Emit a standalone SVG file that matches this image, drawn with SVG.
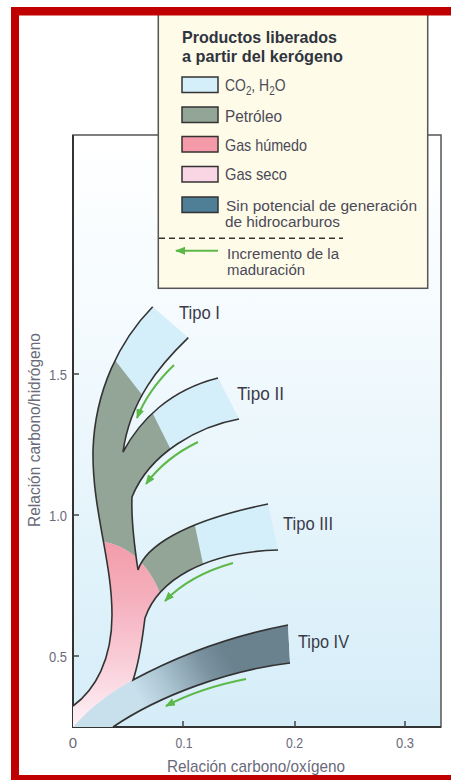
<svg xmlns="http://www.w3.org/2000/svg" width="451" height="780" viewBox="0 0 451 780">
<defs>
<style>
text{font-family:"Liberation Sans",Arial,sans-serif}
.leg{font-size:17px;fill:#4a4a58}
.leg2{font-size:15.5px;fill:#4a4a58}
.ttl{font-size:17px;font-weight:bold;fill:#2f3540}
.tipo{font-size:18px;fill:#3a3a48}
.num{font-size:15px;fill:#6a6a7a}
.axt{font-size:17px;fill:#6a6a7a}
.edge{fill:none;stroke:#333;stroke-width:1.6}
.garrow{fill:none;stroke:#5cb848;stroke-width:2}
.sw{stroke:#333;stroke-width:1.5}
.tick{stroke:#444;stroke-width:1.5}
</style>
<linearGradient id="bg" gradientUnits="userSpaceOnUse" x1="0" y1="135" x2="0" y2="727">
<stop offset="0" stop-color="#ffffff"/>
<stop offset="0.3" stop-color="#f5fbfe"/>
<stop offset="1" stop-color="#d5edf8"/>
</linearGradient>
<linearGradient id="gas" gradientUnits="userSpaceOnUse" x1="0" y1="545" x2="0" y2="725">
<stop offset="0" stop-color="#f39dab"/>
<stop offset="0.3" stop-color="#f5b0bd"/>
<stop offset="0.6" stop-color="#f8c9d4"/>
<stop offset="0.85" stop-color="#fce2ea"/>
<stop offset="1" stop-color="#fef2f6"/>
</linearGradient>
<linearGradient id="t4" gradientUnits="userSpaceOnUse" x1="140" y1="700" x2="225" y2="650">
<stop offset="0" stop-color="#c8e0ec"/>
<stop offset="0.3" stop-color="#adc6d3"/>
<stop offset="0.75" stop-color="#7a929f"/>
<stop offset="1" stop-color="#6a818e"/>
</linearGradient>
<clipPath id="tree">
<path d="M152.7,306.7 C120,340 95,390 93,450 C92,510 112,560 112,615 C112,660 95,690 73,706 L73,727 L113,727 C160,695 230,670 290,663 L288,625 C220,638 170,660 133,680 C140,660 142,640 145,618 C158,580 205,552 278,550 L268,504 C180,522 145,548 138,570 C135,550 131,520 132,497 C150,452 200,426 239,419 L218,378 C170,390 140,420 123,452 C130,400 160,365 188.3,337.7 Z"/>
</clipPath>
<marker id="ah" markerUnits="userSpaceOnUse" markerWidth="11" markerHeight="9" refX="9" refY="4" orient="auto">
<path d="M0,0 L10,4 L0,8 Z" fill="#5cb848"/>
</marker>
</defs>
<rect x="0" y="0" width="451" height="780" fill="#ffffff"/>

<g id="plot">
<rect x="73" y="135" width="368" height="592" fill="url(#bg)" stroke="#555" stroke-width="1.5"/>
<line x1="73" y1="135" x2="73" y2="728" stroke="#333" stroke-width="2"/>
<line x1="72" y1="727" x2="441" y2="727" stroke="#333" stroke-width="2"/>
<line class="tick" x1="73" y1="374" x2="79" y2="374"/>
<line class="tick" x1="73" y1="515" x2="79" y2="515"/>
<line class="tick" x1="73" y1="656" x2="79" y2="656"/>
<line class="tick" x1="183" y1="721" x2="183" y2="727"/>
<line class="tick" x1="295" y1="721" x2="295" y2="727"/>
<line class="tick" x1="405" y1="721" x2="405" y2="727"/>
<text class="num" x="67" y="379.5" text-anchor="end" textLength="18" lengthAdjust="spacingAndGlyphs">1.5</text>
<text class="num" x="67" y="520.5" text-anchor="end" textLength="18" lengthAdjust="spacingAndGlyphs">1.0</text>
<text class="num" x="67" y="661.5" text-anchor="end" textLength="18" lengthAdjust="spacingAndGlyphs">0.5</text>
<text class="num" x="73" y="748" text-anchor="middle">0</text>
<text class="num" x="184" y="748" text-anchor="middle" textLength="17" lengthAdjust="spacingAndGlyphs">0.1</text>
<text class="num" x="294.5" y="748" text-anchor="middle" textLength="17" lengthAdjust="spacingAndGlyphs">0.2</text>
<text class="num" x="405" y="748" text-anchor="middle" textLength="18" lengthAdjust="spacingAndGlyphs">0.3</text>
<text class="axt" x="167" y="772" textLength="178" lengthAdjust="spacingAndGlyphs">Relación carbono/oxígeno</text>
<text class="axt" transform="translate(40,430) rotate(-90)" text-anchor="middle" textLength="194" lengthAdjust="spacingAndGlyphs">Relación carbono/hidrógeno</text>
</g>

<g id="kerogen-tree">
<g clip-path="url(#tree)">
<rect x="60" y="300" width="240" height="430" fill="#d4eefa"/>
<path d="M60,330 L100,341 L150,405 L150,408 L176,460 L192,512 L206,578 L162,598 Q140,540 90,541 L60,541 Z" fill="#93a597"/>
<path d="M60,541 L90,541 Q140,540 162,598 L180,640 L140,760 L60,760 Z" fill="url(#gas)"/>
<path d="M73,727 C90,708 110,692 133,680 C170,660 220,638 288,625 L290,663 C230,670 160,695 113,727 Z" fill="url(#t4)"/>
</g>
<path class="edge" d="M152.7,306.7 C120,340 95,390 93,450 C92,510 112,560 112,615 C112,660 95,690 73,706"/>
<path class="edge" d="M188.3,337.7 C160,365 130,400 123,452 C140,420 170,390 218,378"/>
<path class="edge" d="M239,419 C200,426 150,452 132,497 C131,520 135,550 138,570 C145,548 180,522 268,504"/>
<path class="edge" d="M278,550 C205,552 158,580 145,618 C142,640 140,660 133,680 C170,660 220,638 288,625"/>
<path class="edge" d="M290,663 C230,670 160,695 113,727"/>
</g>

<g id="connectors">
<path class="garrow" d="M174,365 Q148,390 137,418" marker-end="url(#ah)"/>
<path class="garrow" d="M198,442 Q165,458 146,484" marker-end="url(#ah)"/>
<path class="garrow" d="M233,563 Q190,575 165,601" marker-end="url(#ah)"/>
<path class="garrow" d="M246,679 Q200,688 166,706" marker-end="url(#ah)"/>
</g>

<g id="labels">
<text class="tipo" x="179" y="319" textLength="41" lengthAdjust="spacingAndGlyphs">Tipo I</text>
<text class="tipo" x="237" y="399.5" textLength="47" lengthAdjust="spacingAndGlyphs">Tipo II</text>
<text class="tipo" x="283" y="530" textLength="50" lengthAdjust="spacingAndGlyphs">Tipo III</text>
<text class="tipo" x="298" y="648" textLength="51" lengthAdjust="spacingAndGlyphs">Tipo IV</text>
</g>

<g id="legend">
<rect x="158.3" y="14" width="269.4" height="274.3" fill="#fffbe9" stroke="#555" stroke-width="1.5"/>
<text class="ttl" x="182" y="42.5" textLength="155" lengthAdjust="spacingAndGlyphs">Productos liberados</text>
<text class="ttl" x="182" y="62" textLength="161" lengthAdjust="spacingAndGlyphs">a partir del kerógeno</text>
<rect class="sw" x="182" y="77" width="36" height="15.5" fill="#d4eefa"/>
<rect class="sw" x="182" y="107" width="36" height="15.5" fill="#93a597"/>
<rect class="sw" x="182" y="136.5" width="36" height="15.5" fill="#f49aa8"/>
<rect class="sw" x="182" y="166.5" width="36" height="15.5" fill="#fad6e4"/>
<rect class="sw" x="182" y="197" width="36" height="15.5" fill="#4f7f96"/>
<text class="leg" transform="translate(225,90.5) scale(0.82,1)">CO<tspan font-size="12" dy="4">2</tspan><tspan dy="-4">, H</tspan><tspan font-size="12" dy="4">2</tspan><tspan dy="-4">O</tspan></text>
<text class="leg" x="225" y="121.5" textLength="57" lengthAdjust="spacingAndGlyphs">Petróleo</text>
<text class="leg" x="225" y="150.5" textLength="82" lengthAdjust="spacingAndGlyphs">Gas húmedo</text>
<text class="leg" x="225" y="180" textLength="62" lengthAdjust="spacingAndGlyphs">Gas seco</text>
<text class="leg2" x="226" y="211" textLength="191" lengthAdjust="spacingAndGlyphs">Sin potencial de generación</text>
<text class="leg2" x="225" y="227" textLength="115" lengthAdjust="spacingAndGlyphs">de hidrocarburos</text>
<line x1="159" y1="238.3" x2="343" y2="238.3" stroke="#333" stroke-width="1.5" stroke-dasharray="6 4"/>
<path class="garrow" d="M218,250.7 L176,250.7" marker-end="url(#ah)"/>
<text class="leg2" x="227" y="258.5" textLength="112" lengthAdjust="spacingAndGlyphs">Incremento de la</text>
<text class="leg2" x="227" y="275" textLength="78" lengthAdjust="spacingAndGlyphs">maduración</text>
</g>

<g id="frame">
<rect x="11" y="7" width="8" height="773" fill="#c00000"/>
<rect x="11" y="7" width="440" height="8.5" fill="#c00000"/>
<rect x="11" y="775" width="440" height="5" fill="#c00000"/>
</g>
</svg>
